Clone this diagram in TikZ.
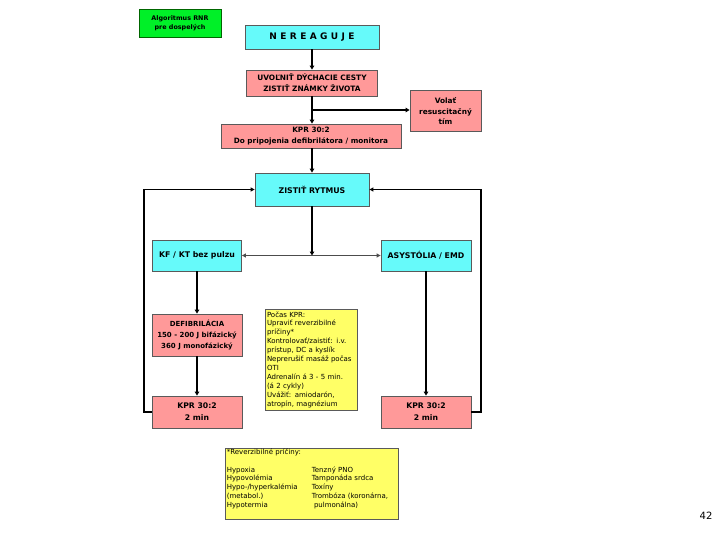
\documentclass[tikz,border=0pt]{standalone}
\usepackage{fontspec}
\setmainfont{DejaVu Sans}
\usetikzlibrary{arrows.meta,positioning}
\definecolor{cyanbox}{RGB}{102,250,250}
\definecolor{pinkbox}{RGB}{255,153,153}
\definecolor{greenbox}{RGB}{0,240,40}
\definecolor{yelbox}{RGB}{255,255,102}
\definecolor{edge}{RGB}{90,90,90}
\tikzset{
  box/.style={draw=edge, line width=0.8pt, rectangle, inner sep=1pt, align=center,
     font=\fontsize{7.8}{9.2}\selectfont\bfseries},
  cbox/.style={box, fill=cyanbox},
  pbox/.style={box, fill=pinkbox},
  ybox/.style={draw=edge, line width=0.6pt, fill=yelbox, rectangle, inner sep=1.5pt, align=left,
     font=\fontsize{7}{8.9}\selectfont},
  thickarrow/.style={line width=2pt, -{Triangle[length=4pt,width=4.5pt]}},
  thinarrow/.style={line width=1.1pt, -{Triangle[length=4pt,width=4pt]}},
}
\begin{document}
\begin{tikzpicture}[x=1pt,y=-1pt]
\useasboundingbox (0,0) rectangle (720,540);
% nodes
\node[box, fill=greenbox, draw=green!40!black, minimum width=82pt, minimum height=28pt,
      font=\fontsize{6.4}{9}\selectfont\bfseries] (title) at (180,23) {Algoritmus RNR\\pre dospelých};
\node[cbox, minimum width=134pt, minimum height=24pt, font=\fontsize{9}{10}\selectfont\bfseries] (ner) at (312,37) {N\hspace{3.4pt}E\hspace{3.4pt}R\hspace{3.4pt}E\hspace{3.4pt}A\hspace{3.4pt}G\hspace{3.4pt}U\hspace{3.4pt}J\hspace{3.4pt}E};
\node[pbox, minimum width=131pt, minimum height=26pt, font=\fontsize{7.4}{11}\selectfont\bfseries] (uvol) at (312,83) {UVOĽNIŤ DÝCHACIE CESTY\\ZISTIŤ ZNÁMKY ŽIVOTA};
\node[pbox, minimum width=71pt, minimum height=41pt, font=\fontsize{7.4}{10.5}\selectfont\bfseries] (volat) at (445.5,111) {Volať\\resuscitačný\\tím};
\node[pbox, minimum width=180pt, minimum height=24pt, font=\fontsize{7.3}{10.6}\selectfont\bfseries] (kpr1) at (311,136) {KPR 30:2\\Do pripojenia defibrilátora / monitora};
\node[cbox, minimum width=114pt, minimum height=33pt] (zist) at (312,189.5) {ZISTIŤ RYTMUS};
\node[cbox, minimum width=89pt, minimum height=31pt] (kf) at (197,255.5) {KF / KT bez pulzu};
\node[cbox, minimum width=90pt, minimum height=31pt] (asys) at (426,255.5) {ASYSTÓLIA / EMD};
\node[pbox, minimum width=90pt, minimum height=42pt, font=\fontsize{7}{11.4}\selectfont\bfseries] (defib) at (197,335) {DEFIBRILÁCIA\\150 - 200 J bifázický\\360 J monofázický};
\node[ybox, minimum height=101pt, text width=89pt] (caus1) at (311.5,359.5) {Počas KPR:\\Upraviť reverzibilné\\príčiny*\\Kontrolovať/zaistiť: i.v.\\prístup, DC a kyslík\\Neprerušiť masáž počas\\OTI\\Adrenalín á 3 - 5 min.\\(á 2 cykly)\\Uvážiť: amiodarón,\\atropín, magnézium};
\node[pbox, minimum width=90pt, minimum height=32pt, font=\fontsize{7.7}{12}\selectfont\bfseries] (kprL) at (197,412) {KPR 30:2\\2 min};
\node[pbox, minimum width=90pt, minimum height=32pt, font=\fontsize{7.7}{12}\selectfont\bfseries] (kprR) at (426,412) {KPR 30:2\\2 min};
\node[ybox, anchor=north west, inner sep=0pt] (caus2) at (225,448) {%
  \begin{minipage}[t][71pt][t]{173pt}\vspace{0.5pt}%
  \fontsize{7}{8.7}\selectfont\hspace*{1.5pt}%
  \begin{tabular}{@{}p{85pt}@{}l@{}}
  *Reverzibilné príčiny: & \\[8.7pt]
  Hypoxia & Tenzný PNO\\
  Hypovolémia & Tamponáda srdca\\
  Hypo-/hyperkalémia & Toxíny\\
  (metabol.) & Trombóza (koronárna,\\
  Hypotermia & \ pulmonálna)
  \end{tabular}
  \end{minipage}};
\node[font=\fontsize{10}{12}\selectfont, inner sep=0pt] (pg) at (706,516) {42};
% connectors
\draw[thickarrow] (ner) -- (uvol);
\draw[thickarrow] (uvol.south) -- (uvol.south |- kpr1.north);
\coordinate (br) at (312,110);
\draw[thickarrow] (br) -- (br -| volat.west);
\draw[thickarrow] (kpr1.south -| zist.north) -- (zist.north);
\coordinate (split) at (312,255.5);
\draw[thickarrow] (zist) -- (split);
\draw[line width=0.9pt, draw=black!70, {Triangle[length=4pt,width=4pt]}-{Triangle[length=4pt,width=4pt]}] (kf.east) -- (asys.west);
\draw[thickarrow] (kf) -- (defib);
\draw[thickarrow] (defib) -- (kprL);
\draw[thickarrow] (asys) -- (kprR);
\coordinate (lc) at (144,412);
\coordinate (rc) at (481,412);
\draw[thinarrow] (kprL.west) -- (lc) |- (zist.west);
\draw[thinarrow] (kprR.east) -- (rc) |- (zist.east);
\end{tikzpicture}
\end{document}
